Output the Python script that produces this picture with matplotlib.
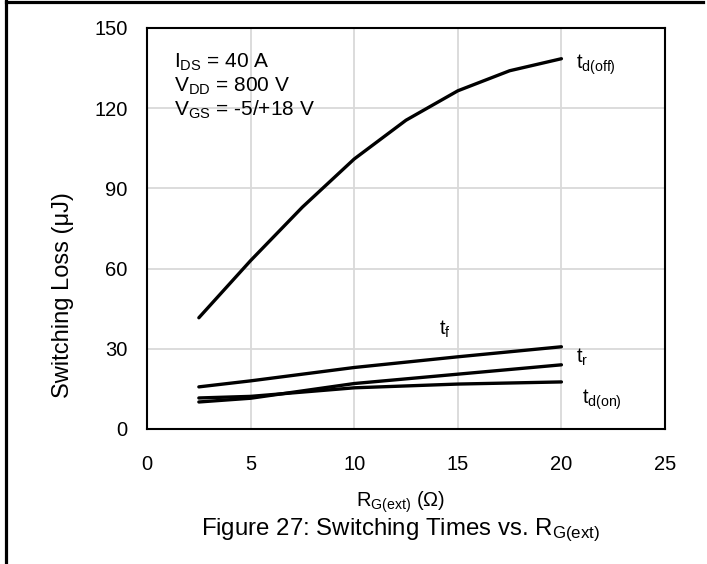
import matplotlib

matplotlib.use("Agg")
import matplotlib.pyplot as plt
from matplotlib.lines import Line2D

plt.rcParams["font.family"] = ["Liberation Sans", "DejaVu Sans"]
plt.rcParams["mathtext.fontset"] = "custom"
plt.rcParams["mathtext.rm"] = "Liberation Sans"
plt.rcParams["mathtext.it"] = "Liberation Sans"

# R_G(ext) in ohm
rg_off = [2.5, 5, 7.5, 10, 12.5, 15, 17.5, 20]
td_off = [41.6, 63, 83, 101, 115.5, 126.5, 134, 138.5]

rg = [2.5, 5, 10, 15, 20]
t_f = [15.75, 18, 23, 27, 30.75]
t_r = [10.1, 11.5, 17, 20.5, 24]
td_on = [11.6, 12.2, 15.4, 16.8, 17.6]

x_ticks = [0, 5, 10, 15, 20, 25]
y_ticks = [0, 30, 60, 90, 120, 150]

fig = plt.figure(figsize=(7.07, 5.64), dpi=100)
ax = fig.add_axes([0.208, 0.2394, 0.7326, 0.711])

lw = 2.4
for xs, ys in [(rg_off, td_off), (rg, t_f), (rg, t_r), (rg, td_on)]:
    ax.plot(xs, ys, color="black", lw=lw, solid_capstyle="round", zorder=3)

ax.set_xlim(0, 25)
ax.set_ylim(0, 150)
ax.set_xticks(x_ticks)
ax.set_yticks(y_ticks)
ax.tick_params(length=0, labelsize=14.5)
ax.tick_params(axis="x", pad=19)
ax.tick_params(axis="y", pad=14)
ax.grid(True, color="#d9d9d9", lw=1.3, zorder=0)
ax.set_axisbelow(True)
for s in ax.spines.values():
    s.set_linewidth(1.5)
    s.set_color("black")

# curve labels
fs_lab = 14.5
ax.text(20.7, 134.6, r"t$_{\mathregular{d(off)}}$", fontsize=fs_lab, va="baseline", ha="left")
ax.text(14.1, 35.3, r"t$_{\mathregular{f}}$", fontsize=fs_lab, va="baseline", ha="left")
ax.text(20.7, 24.8, r"t$_{\mathregular{r}}$", fontsize=fs_lab, va="baseline", ha="left")
ax.text(21.0, 9.4, r"t$_{\mathregular{d(on)}}$", fontsize=fs_lab, va="baseline", ha="left")

# test conditions
conds = [
    r"I$_{\mathregular{DS}}$ = 40 A",
    r"V$_{\mathregular{DD}}$ = 800 V",
    r"V$_{\mathregular{GS}}$ = -5/+18 V",
]
for i, c in enumerate(conds):
    ax.text(1.3, 135 - i * 8.85, c, fontsize=15, va="baseline", ha="left")

fig.text(0.089, 0.477, "Switching Loss (μJ)", fontsize=17, rotation=90,
         ha="center", va="center")
fig.text(0.5665, 0.101, r"R$_{\mathregular{G(ext)}}$ (Ω)", fontsize=14.5,
         ha="center", va="baseline")
fig.text(0.5665, 0.0514, r"Figure 27: Switching Times vs. R$_{\mathregular{G(ext)}}$",
         fontsize=17.3, ha="center", va="baseline")

# outer frame (left and top edges only)
fig.add_artist(Line2D([0.0078, 0.0078], [0, 0.998], transform=fig.transFigure,
                      color="black", lw=2.3))
fig.add_artist(Line2D([0.0078, 0.995], [0.9965, 0.9965], transform=fig.transFigure,
                      color="black", lw=2.3))

fig.savefig("out.png", dpi=100)
